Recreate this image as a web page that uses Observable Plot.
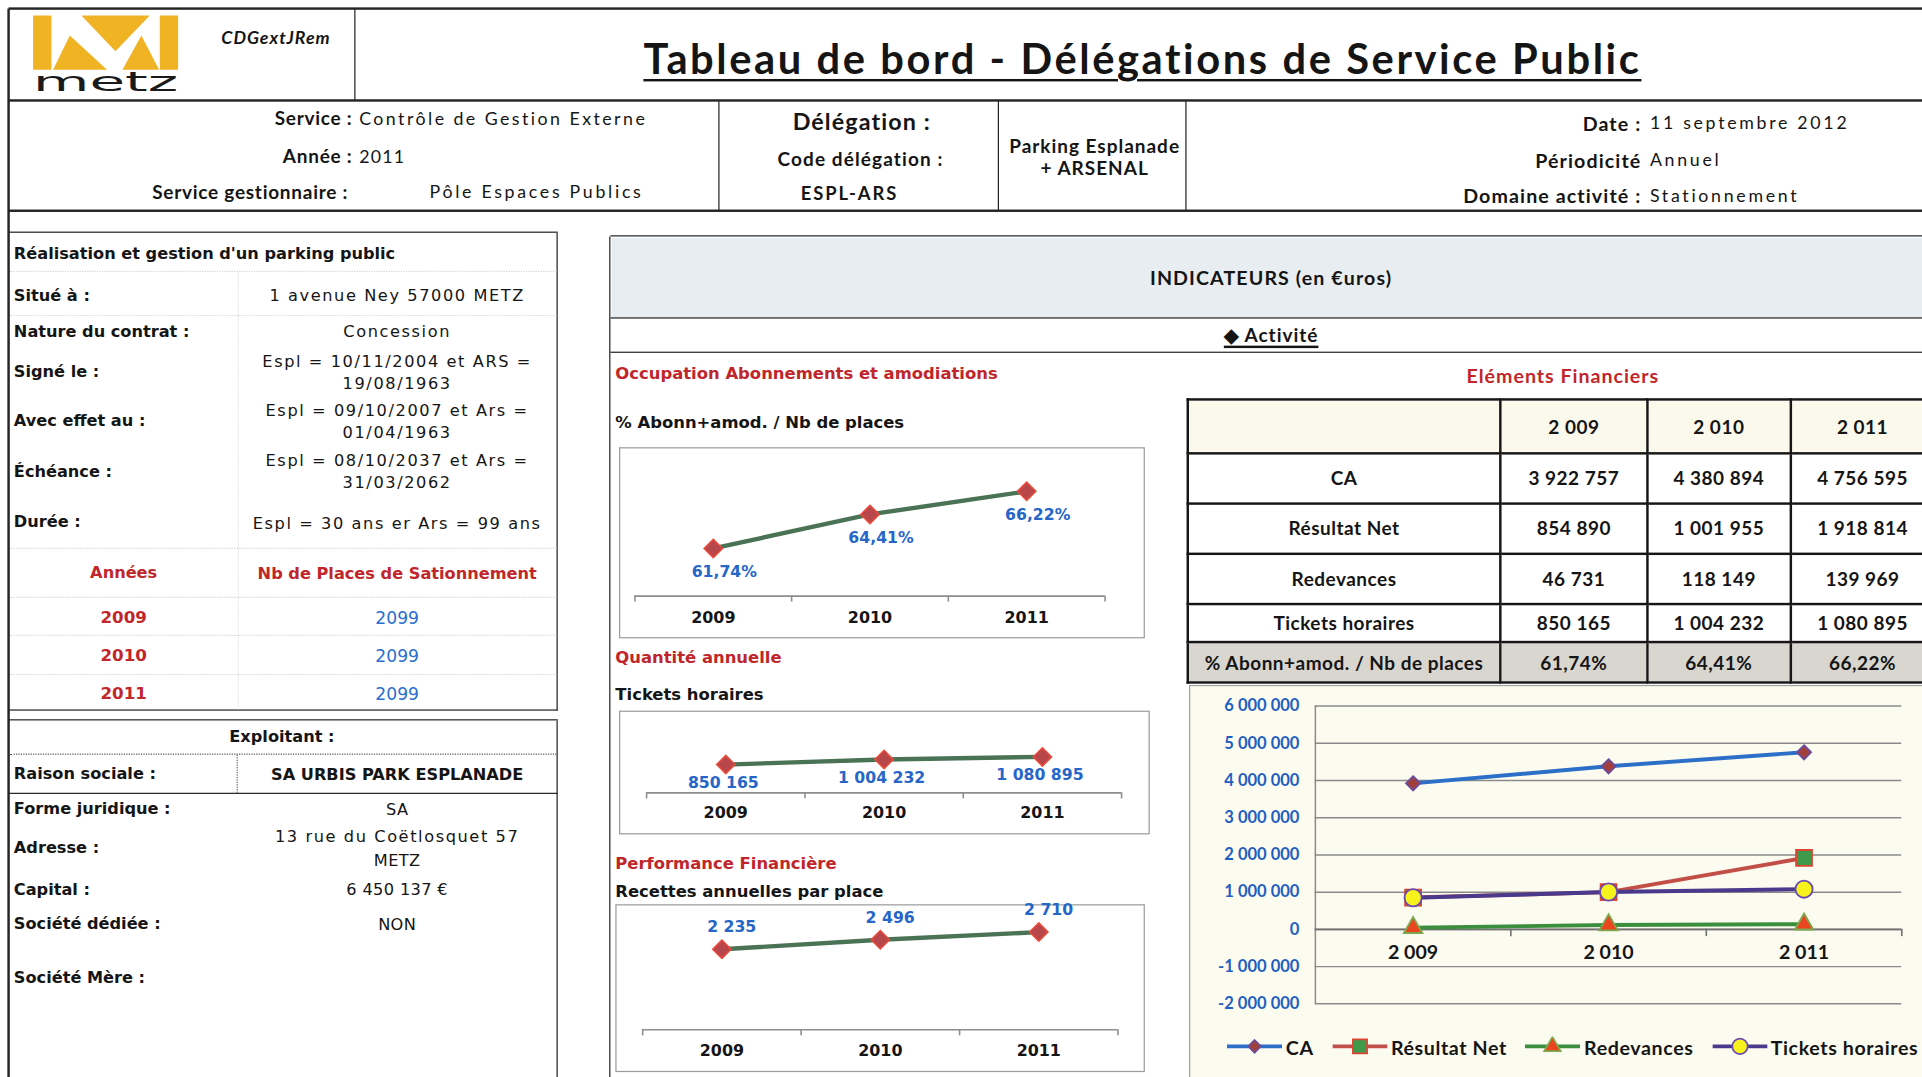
<!DOCTYPE html>
<html><head><meta charset="utf-8">
<script src="https://cdn.jsdelivr.net/npm/d3@7"></script>
<script src="https://cdn.jsdelivr.net/npm/@observablehq/plot@0.6"></script>
<style>
html,body{margin:0;padding:0;background:#fff;overflow:hidden;width:1922px;height:1077px}
#page{position:absolute;left:0;top:0;width:1568px;height:879px;transform-origin:0 0;transform:scale(1.22577,1.22526);background:#fff;overflow:hidden}
.t{position:absolute;white-space:nowrap;line-height:1.15;color:#151515}
.v{font-family:"DejaVu Sans",sans-serif;font-weight:bold;font-size:13.2px}
.vr{font-family:"DejaVu Sans",sans-serif;font-weight:normal;font-size:13.2px}
.c{font-family:Lato,"Open Sans",sans-serif;font-weight:bold;font-size:15.5px;letter-spacing:0.6px}
.cr{font-family:Lato,"Open Sans",sans-serif;font-weight:normal;font-size:14.5px}
.b{position:absolute;box-sizing:border-box}
table.fin{position:absolute;border-collapse:collapse;table-layout:fixed;font-family:Lato,"Open Sans",sans-serif;font-weight:bold;font-size:15.5px;letter-spacing:0.4px;color:#151515}
table.fin td{border:2px solid #161616;text-align:center;padding:0;white-space:nowrap;overflow:hidden}
.legend{position:absolute;display:flex;flex-wrap:nowrap;align-items:center;white-space:nowrap;width:600px;font-family:Lato,"Open Sans",sans-serif;font-weight:bold;font-size:16px;letter-spacing:0.5px;color:#151515}
.legend .it{display:flex;align-items:center;margin-right:15px;flex:0 0 auto;white-space:nowrap}
.legend svg{margin-right:3px;flex:0 0 auto}
</style></head><body><div id="page"></div>
<script>
// ---------- data ----------
const years = [2009, 2010, 2011];
const occupationPct = [61.74, 64.41, 66.22];
const ticketsHoraires = [850165, 1004232, 1080895];
const recettesParPlace = [2235, 2496, 2710];
const chiffreAffaires = [3922757, 4380894, 4756595];
const resultatNet = [854890, 1001955, 1918814];
const redevances = [46731, 118149, 139969];
const nbPlaces = [2099, 2099, 2099];
const financeTicks = [-2000000, -1000000, 0, 1000000, 2000000, 3000000, 4000000, 5000000, 6000000];
const seriesNames = ["CA", "Résultat Net", "Redevances", "Tickets horaires"];
const tableRowLabels = ["CA", "Résultat Net", "Redevances", "Tickets horaires", "% Abonn+amod. / Nb de places"];
const infoLabels = ["Situé à :", "Nature du contrat  :", "Signé le :", "Avec effet au :", "Échéance :", "Durée :"];
const infoValues = [["1 avenue Ney 57000 METZ"], ["Concession"], ["Espl = 10/11/2004 et ARS =", "19/08/1963"], ["Espl = 09/10/2007 et Ars =", "01/04/1963"], ["Espl = 08/10/2037 et Ars =", "31/03/2062"], ["Espl = 30 ans er Ars = 99 ans"]];
const exploitLabels = ["Forme juridique :", "Adresse :", "Capital :", "Société dédiée :", "Société Mère :"];
const exploitValues = [["SA"], ["13 rue du Coëtlosquet 57", "METZ"], ["6 450 137 €"], ["NON"], []];

// ---------- helpers ----------
const fr = d3.formatLocale({decimal: ",", thousands: " ", grouping: [3], currency: ["", " €"], minus: "-"});
const fmtInt = fr.format(",d");
const fmtPct = v => fr.format(".2f")(v) + "%";
const page = document.getElementById("page");
function T(x, y, s, cls, o = {}) {
  const d = document.createElement("div");
  d.className = "t " + cls;
  d.textContent = s;
  d.style.left = x + "px"; d.style.top = y + "px";
  const ax = o.a === "c" ? "-50%" : o.a === "r" ? "-100%" : "0";
  d.style.transform = `translate(${ax},-50%)`;
  if (o.size) d.style.fontSize = o.size + "px";
  if (o.color) d.style.color = o.color;
  if (o.ls != null) d.style.letterSpacing = o.ls + "px";
  if (o.u) { d.style.textDecoration = "underline"; d.style.textDecorationThickness = (o.ut || 1.5) + "px"; d.style.textUnderlineOffset = (o.uo || 3) + "px"; }
  if (o.i) d.style.fontStyle = "italic";
  page.appendChild(d);
  return d;
}
function B(x, y, w, h, css) {
  const d = document.createElement("div"); d.className = "b";
  Object.assign(d.style, {left: x + "px", top: y + "px", width: w + "px", height: h + "px"}, css || {});
  page.appendChild(d); return d;
}
function L(x1, y1, x2, y2, w = 1.6, color = "#262626", style = "solid") {
  if (y1 === y2) B(x1, y1 - w / 2, x2 - x1, w, {borderTop: `${w}px ${style} ${color}`});
  else B(x1 - w / 2, y1, w, y2 - y1, {borderLeft: `${w}px ${style} ${color}`});
}
const rhombus = {draw(ctx, size) { const r = Math.sqrt(size / 2); ctx.moveTo(0, -r); ctx.lineTo(r, 0); ctx.lineTo(0, r); ctx.lineTo(-r, 0); ctx.closePath(); }};

// ---------- header ----------
L(7, 7, 1568, 7, 2); L(7, 7, 7, 879, 2); L(7, 82, 1568, 82, 2); L(290, 7, 290, 82, 1.6);
L(7, 172, 1568, 172, 2);
L(587, 82, 587, 172, 1.2); L(815, 82, 815, 172, 1.2); L(968, 82, 968, 172, 1.2);

// logo
const logo = document.createElementNS("http://www.w3.org/2000/svg", "svg");
logo.setAttribute("viewBox", "40 20 435 265");
Object.assign(logo.style, {position: "absolute", left: "27.4px", top: "12px", width: "118.3px", height: "72.1px", overflow: "visible"});
logo.innerHTML = `
<g fill="#f0b323">
<polygon points="40,22 95,22 95,185 40,185"/>
<polygon points="420,22 475,22 475,185 420,185"/>
<polygon points="185,22 390,22 287,130"/>
<polygon points="100,185 150,82 262,185"/>
<polygon points="308,185 365,82 418,185"/>
</g>
<text x="40" y="248" textLength="435" lengthAdjust="spacingAndGlyphs" font-family="DejaVu Sans" font-size="80" fill="#1a1a1a">metz</text>`;
page.appendChild(logo);
T(180.6, 31, "CDGextJRem", "c", {i: true, size: 14.5, ls: 0.8});
T(932, 47, "Tableau de bord - Délégations de Service Public", "c", {a: "c", size: 34, ls: 2.1, u: true, ut: 2.2, uo: 4});

// row 2
T(287.5, 97, "Service :", "c", {a: "r"});
T(293, 97, "Contrôle de Gestion Externe", "cr", {ls: 2});
T(287.5, 128, "Année :", "c", {a: "r"});
T(293, 128, "2011", "cr", {ls: 1});
T(284, 157, "Service gestionnaire :", "c", {a: "r"});
T(525, 157, "Pôle Espaces Publics", "cr", {a: "r", ls: 2.2});
T(703, 99, "Délégation :", "c", {a: "c", size: 19, ls: 0.9});
T(702, 130, "Code délégation :", "c", {a: "c", size: 15.5, ls: 0.9});
T(693, 158, "ESPL-ARS", "c", {a: "c", size: 15, ls: 1.6});
T(893, 120, "Parking Esplanade", "c", {a: "c", size: 15.5, ls: 0.8});
T(893, 138, "+ ARSENAL", "c", {a: "c", size: 15.5, ls: 0.8});
T(1339, 101, "Date :", "c", {a: "r", size: 16, ls: 0.9});
T(1346, 101, "11 septembre 2012", "cr", {ls: 2.2});
T(1339, 131, "Périodicité", "c", {a: "r", size: 16, ls: 0.9});
T(1346, 131, "Annuel", "cr", {ls: 2.2});
T(1339, 160, "Domaine activité :", "c", {a: "r", size: 16, ls: 0.9});
T(1346, 160, "Stationnement", "cr", {ls: 2.2});

// ---------- left panel ----------
L(7, 190, 455, 190, 1.8); L(455, 190, 455, 580, 1.8); L(7, 580, 455, 580, 1.8);
[221.6, 257, 447, 487, 518, 550].forEach(y => L(8, y, 454, y, 1, "#d6d6d6", "dotted"));
L(194, 222, 194, 579, 1, "#e2e2e2", "dotted");
T(11.3, 206.7, "Réalisation et gestion d'un parking public", "v");
const infoLabelY = [240.7, 271.4, 302.7, 342.6, 384.8, 425.6];
const infoValueY = [[241], [271.4], [295, 312.7], [335, 352.7], [376, 394.3], [427]];
infoLabels.forEach((s, i) => T(11.3, infoLabelY[i], s, "v"));
infoValues.forEach((arr, i) => arr.forEach((s, j) => T(324, infoValueY[i][j], s, "vr", {a: "c", ls: 1.3})));
T(100.9, 467, "Années", "v", {a: "c", color: "#c0262a"});
T(324, 468, "Nb de Places de Sationnement", "v", {a: "c", color: "#c0262a"});
const placeY = [503.6, 535.2, 565.6];
years.forEach((yr, i) => {
  T(100.9, placeY[i], String(yr), "v", {a: "c", color: "#c0262a", size: 13.6});
  T(324, placeY[i], String(nbPlaces[i]), "vr", {a: "c", color: "#2b6fd0", size: 14});
});

// exploitant box
L(7, 588, 455, 588, 1.8); L(455, 588, 455, 879, 1.8);
L(8, 616, 454, 616, 1.3, "#555", "dotted"); L(194, 616, 194, 647, 1.2, "#666", "dotted");
L(7, 647.5, 455, 647.5, 1.6);
T(230, 601, "Exploitant :", "v", {a: "c"});
T(11.3, 631.4, "Raison sociale :", "v");
T(324, 632, "SA URBIS PARK ESPLANADE", "v", {a: "c"});
const exLabelY = [660, 692, 726, 754, 798];
const exValueY = [[661], [683, 701.6], [726], [755], []];
exploitLabels.forEach((s, i) => T(11.3, exLabelY[i], s, "v"));
exploitValues.forEach((arr, i) => arr.forEach((s, j) => T(324, exValueY[i][j], s, "vr", {a: "c", ls: (i === 1 && j === 0) ? 1.3 : 0.3})));

// ---------- right panel ----------
B(499, 193.5, 1069, 66, {background: "#e8edf1"});
L(498, 192.5, 1568, 192.5, 1.8); L(498, 192.5, 498, 879, 1.8);
L(498, 260, 1568, 260, 1.6); L(498, 287.5, 1568, 287.5, 1.6);
T(1037, 227, "INDICATEURS  (en €uros)", "c", {a: "c", size: 16, ls: 0.9});
T(1037, 273.5, "◆  Activité", "c", {a: "c", size: 15.5, ls: 0.8, u: true, ut: 1.6, uo: 2.5});

T(502, 305, "Occupation Abonnements et amodiations", "v", {color: "#c0262a", size: 13.4});
T(502, 345.4, "% Abonn+amod. / Nb de places", "v", {size: 13.4});
T(502, 537, "Quantité annuelle", "v", {color: "#c0262a", size: 13.4});
T(502, 567, "Tickets horaires", "v", {size: 13.4});
T(502, 705, "Performance Financière", "v", {color: "#c0262a", size: 13.4});
T(502, 728, "Recettes annuelles par place", "v", {size: 13.4});

function smallChart(o) {
  const data = years.map((year, i) => ({year, value: o.values[i]}));
  const bounds = [years[0] - 0.5, ...years.map(y => y + 0.5)];
  const base = o.domain[0];
  B(o.left, o.top, o.width, o.height, {border: "1.2px solid #9c9c9c", background: "#fff"});
  const svg = Plot.plot({
    width: o.width, height: o.height,
    marginLeft: o.mL, marginRight: o.mR, marginTop: o.mT, marginBottom: o.mB,
    style: {fontFamily: "DejaVu Sans, sans-serif", fontSize: "13px", fontWeight: "bold", color: "#151515", background: "transparent", overflow: "visible"},
    x: {type: "linear", domain: [bounds[0], bounds[bounds.length - 1]], ticks: years, tickFormat: d => String(d), tickSize: 0, tickPadding: o.pad, label: null},
    y: {domain: o.domain, axis: null},
    marks: [
      Plot.ruleY([base], {stroke: "#8e8e8e", strokeWidth: 1.3}),
      Plot.ruleX(bounds, {x: d => d, y1: base, y2: base, insetBottom: -5, stroke: "#8e8e8e", strokeWidth: 1.3}),
      Plot.line(data, {x: "year", y: "value", stroke: "#4a7356", strokeWidth: 3.6}),
      Plot.dot(data, {x: "year", y: "value", symbol: rhombus, r: 6, fill: "#b8474b", stroke: "#ee4a3a", strokeWidth: 1.2}),
      Plot.text(data, {x: "year", y: "value", text: d => o.fmt(d.value), dy: o.dy, dx: o.dx, fill: "#2566c8", fontSize: 12.8, fontWeight: "bold"})
    ]
  });
  Object.assign(svg.style, {position: "absolute", left: o.left + "px", top: o.top + "px"});
  page.appendChild(svg);
}
smallChart({left: 505, top: 364.5, width: 429, height: 156, mL: 12.5, mR: 33, mT: 17, mB: 35, domain: [58, 68], values: occupationPct, fmt: fmtPct, dy: 19, dx: 9, pad: 13});
smallChart({left: 505, top: 579.8, width: 433, height: 101.4, mL: 22, mR: 23.5, mT: 12.3, mB: 34.8, domain: [0, 2000000], values: ticketsHoraires, fmt: fmtInt, dy: 15, dx: -2, pad: 11});
smallChart({left: 502, top: 738.3, width: 432.4, height: 137.1, mL: 21.8, mR: 22.8, mT: 13.7, mB: 35.1, domain: [0, 3000], values: recettesParPlace, fmt: fmtInt, dy: -18, dx: 8, pad: 12});

// ---------- financial table ----------
T(1275, 307, "Eléments Financiers", "c", {a: "c", color: "#c0262a", size: 16, ls: 0.8});
const tableValues = [chiffreAffaires, resultatNet, redevances, ticketsHoraires];
const colW = [255, 120, 116.5, 118];
const rowH = [43.5, 41, 41, 41, 31.5, 33];
const tbl = document.createElement("table");
tbl.className = "fin";
Object.assign(tbl.style, {left: "968px", top: "325px", width: d3.sum(colW) + "px"});
const cg = document.createElement("colgroup");
colW.forEach(w => { const c = document.createElement("col"); c.style.width = w + "px"; cg.appendChild(c); });
tbl.appendChild(cg);
const rows = [["", ...years.map(fmtInt)]]
  .concat(tableValues.map((arr, i) => [tableRowLabels[i], ...arr.map(fmtInt)]))
  .concat([[tableRowLabels[4], ...occupationPct.map(fmtPct)]]);
rows.forEach((r, i) => {
  const tr = document.createElement("tr");
  tr.style.height = rowH[i] + "px";
  if (i === 0) tr.style.background = "#fbf9ec";
  if (i === rows.length - 1) tr.style.background = "#d9d6d0";
  r.forEach(s => { const td = document.createElement("td"); td.textContent = s; tr.appendChild(td); });
  tbl.appendChild(tr);
});
page.appendChild(tbl);

// ---------- financial chart ----------
B(970, 559, 620, 330, {border: "1.2px solid #a0a0a0", background: "#fcfbf0"});
const series = [
  {values: chiffreAffaires, stroke: "#2b6fc8", symbol: rhombus, r: 4.6, fill: "#a33f3b", mstroke: "#6a4d9c"},
  {values: resultatNet, stroke: "#c24f47", symbol: "square", r: 7.3, fill: "#3f9a4b", mstroke: "#dc4530"},
  {values: redevances, stroke: "#3a8e3e", symbol: "triangle", r: 5.6, fill: "#e9451f", mstroke: "#7ea84d"},
  {values: ticketsHoraires, stroke: "#4a3a8d", symbol: "circle", r: 7, fill: "#f6f21c", mstroke: "#6b4bb2"}
];
const fBounds = [years[0] - 0.5, ...years.map(y => y + 0.5)];
const finMarks = [
  Plot.ruleY(financeTicks, {stroke: "#8a8a8a", strokeWidth: 1.2}),
  Plot.ruleX([fBounds[0]], {stroke: "#8a8a8a", strokeWidth: 1.2}),
  Plot.ruleY([0], {stroke: "#707070", strokeWidth: 1.4}),
  Plot.ruleX(fBounds.slice(1), {x: d => d, y1: 0, y2: 0, insetBottom: -6, stroke: "#707070", strokeWidth: 1.3}),
  Plot.text(years, {x: d => d, y: 0, dy: 19, text: d => fmtInt(d), fill: "#151515", fontSize: 16})
];
series.forEach(s => {
  const data = years.map((year, i) => ({year, value: s.values[i]}));
  finMarks.push(Plot.line(data, {x: "year", y: "value", stroke: s.stroke, strokeWidth: 3.2}));
  finMarks.push(Plot.dot(data, {x: "year", y: "value", symbol: s.symbol, r: s.r, fill: s.fill, stroke: s.mstroke, strokeWidth: 1.5}));
});
const fin = Plot.plot({
  width: 598, height: 290, marginLeft: 102.6, marginRight: 17, marginTop: 16.7, marginBottom: 30.2,
  style: {fontFamily: "Lato, sans-serif", fontSize: "13.5px", fontWeight: "bold", color: "#1f5fc0", background: "transparent", overflow: "visible"},
  x: {type: "linear", domain: [fBounds[0], fBounds[fBounds.length - 1]], axis: null},
  y: {domain: [financeTicks[0], financeTicks[financeTicks.length - 1]], ticks: financeTicks, tickFormat: fmtInt, tickSize: 0, tickPadding: 13, label: null},
  marks: finMarks
});
Object.assign(fin.style, {position: "absolute", left: "970px", top: "559px"});
page.appendChild(fin);

// legend
const leg = document.createElement("div");
leg.className = "legend";
Object.assign(leg.style, {left: "1001px", top: "845px", height: "18px"});
series.forEach((s, i) => {
  const it = document.createElement("div"); it.className = "it";
  const sw = d3.create("svg").attr("width", 45).attr("height", 16);
  sw.append("line").attr("x1", 0).attr("x2", 45).attr("y1", 8).attr("y2", 8).attr("stroke", s.stroke).attr("stroke-width", 3.2);
  const sym = typeof s.symbol === "string" ? {square: d3.symbolSquare, triangle: d3.symbolTriangle, circle: d3.symbolCircle}[s.symbol] : s.symbol;
  sw.append("path").attr("transform", "translate(22.5,8)").attr("d", d3.symbol(sym, Math.PI * s.r * s.r * 0.8)())
    .attr("fill", s.fill).attr("stroke", s.mstroke).attr("stroke-width", 1.4);
  it.appendChild(sw.node());
  const lab = document.createElement("span"); lab.textContent = seriesNames[i];
  it.appendChild(lab);
  leg.appendChild(it);
});
page.appendChild(leg);
</script></body></html>
